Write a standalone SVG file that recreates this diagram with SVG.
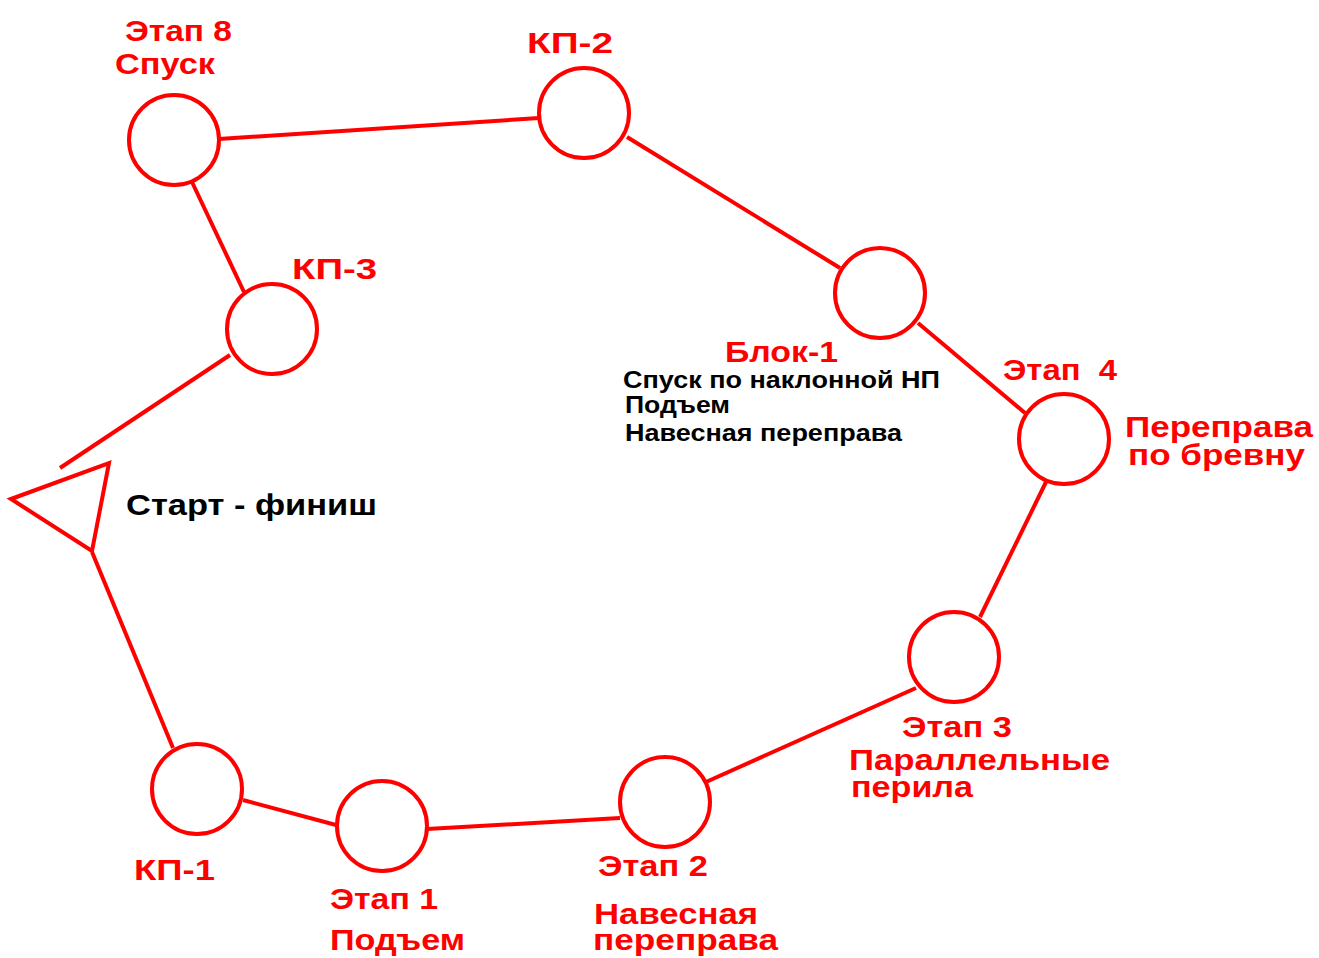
<svg xmlns="http://www.w3.org/2000/svg" width="1319" height="958" viewBox="0 0 1319 958">
<style>
.n{fill:none;stroke:#ff0000;stroke-width:4}
.c line{stroke:#ff0000;stroke-width:4;fill:none}
text{font-family:"Liberation Sans",Arial,sans-serif;font-weight:bold}
.r{fill:#ff0000;font-size:29px}
.b{fill:#000;font-size:23px}
.k{fill:#000;font-size:30px}
</style>
<rect width="1319" height="958" fill="#fff"/>
<g class="c" id="connectors">
<line x1="219" y1="139" x2="539" y2="118"/>
<line x1="192" y1="182" x2="244" y2="292"/>
<line x1="230" y1="355" x2="60" y2="468"/>
<line x1="627" y1="137" x2="840" y2="268"/>
<line x1="918" y1="323" x2="1025" y2="413"/>
<line x1="1046" y1="482" x2="980" y2="617"/>
<line x1="916" y1="688" x2="706" y2="782"/>
<line x1="620" y1="818" x2="427" y2="829"/>
<line x1="336" y1="825" x2="243" y2="800"/>
<line x1="173" y1="748" x2="92" y2="552"/>
</g>
<g id="start"><polygon class="n" points="11,499 109,463 92,551"/><text class="k" x="126" y="515" textLength="251" lengthAdjust="spacingAndGlyphs">Старт - финиш</text></g>
<g id="etap8"><circle class="n" cx="174" cy="140" r="45"/><text class="r" x="125" y="41" textLength="107" lengthAdjust="spacingAndGlyphs">Этап 8</text><text class="r" x="115" y="74" textLength="100" lengthAdjust="spacingAndGlyphs">Спуск</text></g>
<g id="kp2"><circle class="n" cx="584" cy="113" r="45"/><text class="r" x="527" y="53" textLength="86" lengthAdjust="spacingAndGlyphs">КП-2</text></g>
<g id="kp3"><circle class="n" cx="272" cy="329" r="45"/><text class="r" x="292" y="279" textLength="85" lengthAdjust="spacingAndGlyphs">КП-3</text></g>
<g id="blok1"><circle class="n" cx="880" cy="293" r="45"/><text class="r" x="725" y="362" textLength="113" lengthAdjust="spacingAndGlyphs">Блок-1</text>
<text class="b" x="623" y="388" textLength="317" lengthAdjust="spacingAndGlyphs">Спуск по наклонной НП</text><text class="b" x="625" y="413" textLength="105" lengthAdjust="spacingAndGlyphs">Подъем</text><text class="b" x="625" y="441" textLength="277" lengthAdjust="spacingAndGlyphs">Навесная переправа</text></g>
<g id="etap4"><circle class="n" cx="1064" cy="439" r="45"/><text class="r" x="1003" y="380" xml:space="preserve" textLength="114" lengthAdjust="spacingAndGlyphs">Этап  4</text><text class="r" x="1125" y="437" textLength="188" lengthAdjust="spacingAndGlyphs">Переправа</text><text class="r" x="1128" y="465" textLength="177" lengthAdjust="spacingAndGlyphs">по бревну</text></g>
<g id="etap3"><circle class="n" cx="954" cy="657" r="45"/><text class="r" x="902" y="737" textLength="110" lengthAdjust="spacingAndGlyphs">Этап 3</text><text class="r" x="849" y="770" textLength="261" lengthAdjust="spacingAndGlyphs">Параллельные</text><text class="r" x="851" y="797" textLength="122" lengthAdjust="spacingAndGlyphs">перила</text></g>
<g id="etap2"><circle class="n" cx="665" cy="802" r="45"/><text class="r" x="598" y="876" textLength="110" lengthAdjust="spacingAndGlyphs">Этап 2</text><text class="r" x="594" y="924" textLength="164" lengthAdjust="spacingAndGlyphs">Навесная</text><text class="r" x="593" y="950" textLength="185" lengthAdjust="spacingAndGlyphs">переправа</text></g>
<g id="etap1"><circle class="n" cx="382" cy="826" r="45"/><text class="r" x="330" y="909" textLength="108" lengthAdjust="spacingAndGlyphs">Этап 1</text><text class="r" x="330" y="950" textLength="135" lengthAdjust="spacingAndGlyphs">Подъем</text></g>
<g id="kp1"><circle class="n" cx="197" cy="789" r="45"/><text class="r" x="134" y="880" textLength="81" lengthAdjust="spacingAndGlyphs">КП-1</text></g>
</svg>
